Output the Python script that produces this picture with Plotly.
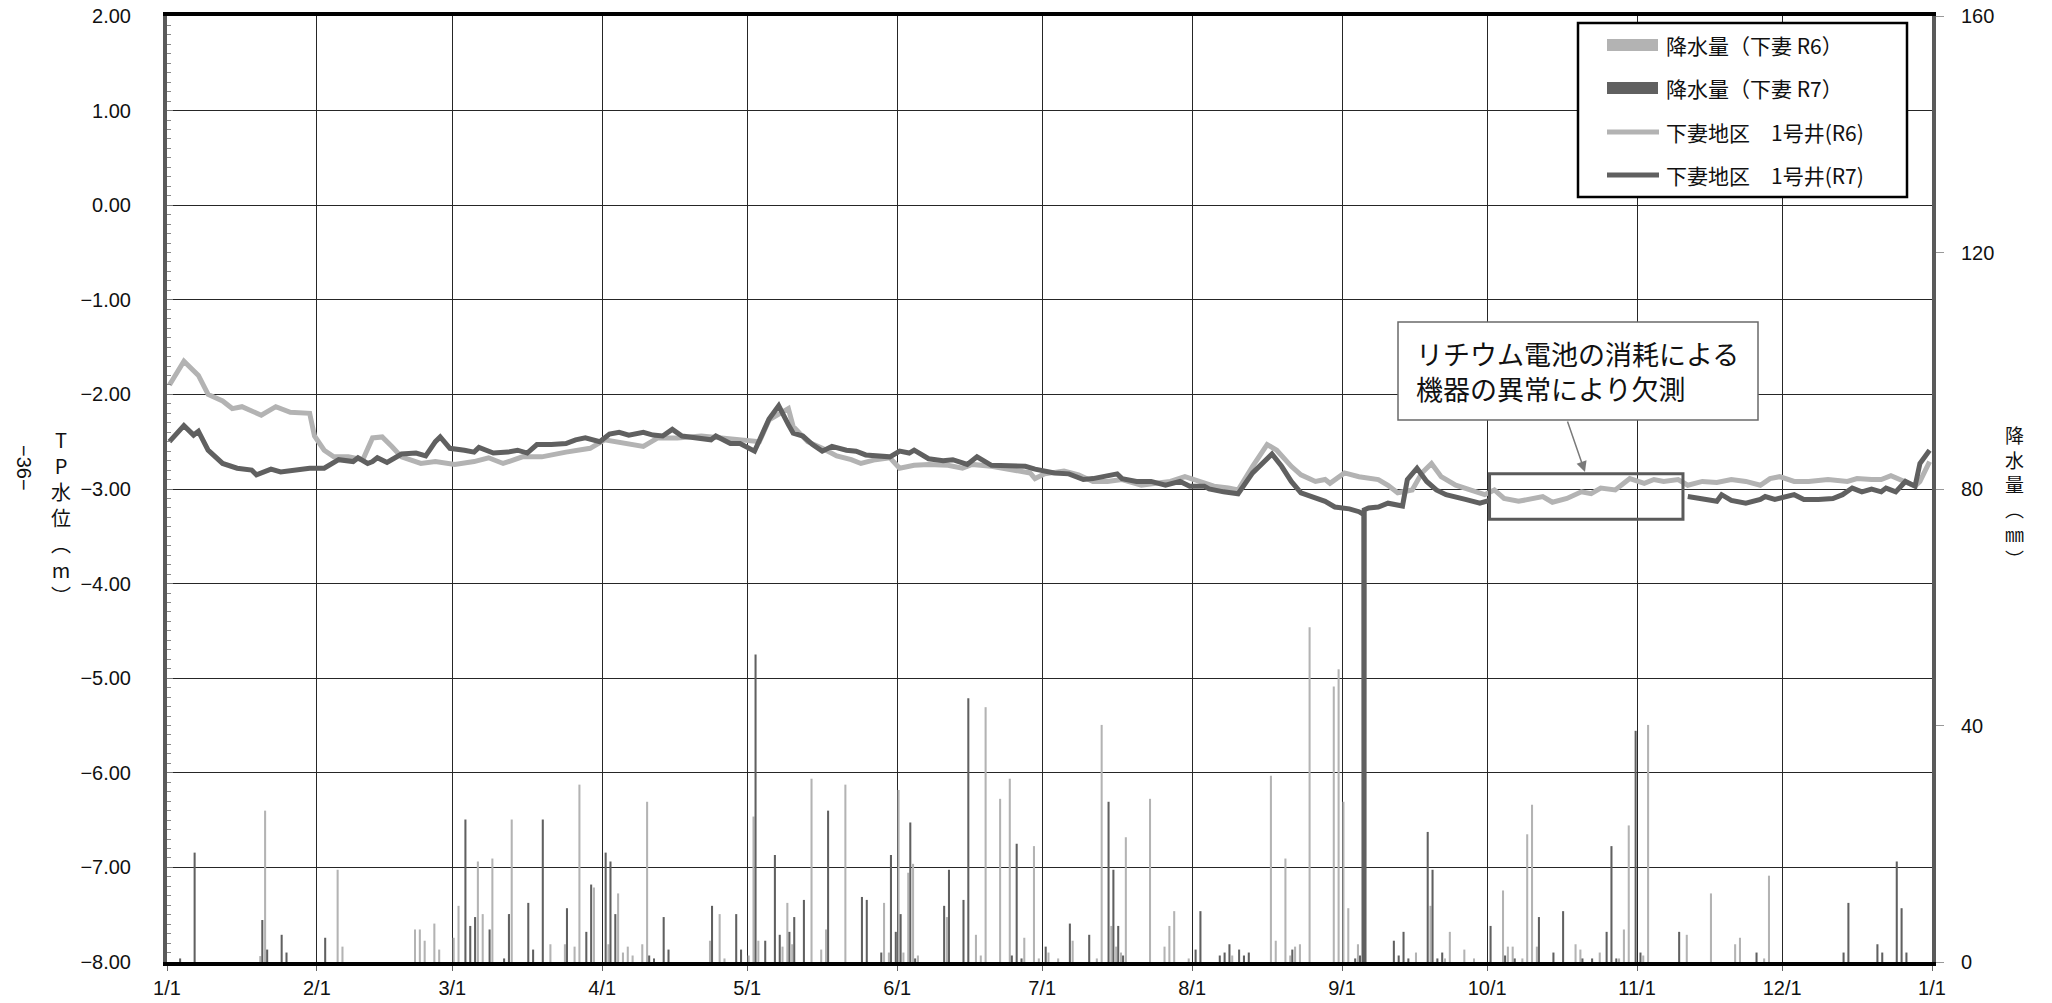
import pandas as pd
import plotly.graph_objects as go

YEAR = "2025"

# ---------------- data ----------------
# daily rainfall (mm), Shimotsuma, R6 (2024)
rain_r6_dates = ["01-20", "01-21", "02-05", "02-06", "02-21", "02-22", "02-23", "02-25", "02-26",
                 "03-01", "03-02", "03-06", "03-07", "03-09", "03-13", "03-21", "03-24", "03-26",
                 "03-27", "03-30", "04-02", "04-04", "04-05", "04-06", "04-07", "04-09", "04-10",
                 "04-23", "04-25", "04-26", "05-01", "05-02", "05-03", "05-08", "05-09", "05-10",
                 "05-14", "05-16", "05-17", "05-21", "05-29", "05-30", "06-01", "06-02", "06-03",
                 "06-04", "06-05", "06-11", "06-17", "06-18", "06-19", "06-22", "06-24", "06-27",
                 "06-29", "06-30", "07-02", "07-04", "07-07", "07-12", "07-13", "07-15", "07-16",
                 "07-17", "07-18", "07-23", "07-26", "07-27", "07-28", "07-31", "08-09", "08-17",
                 "08-18", "08-20", "08-21", "08-22", "08-23", "08-25", "08-30", "08-31", "09-01",
                 "09-02", "09-04", "09-16", "09-19", "09-22", "09-23", "09-26", "09-28", "10-04",
                 "10-05", "10-06", "10-08", "10-09", "10-10", "10-11", "10-19", "10-20", "10-24",
                 "10-28", "10-29", "10-30", "11-02", "11-03", "11-11", "11-16", "11-21", "11-22",
                 "11-27", "11-28"]
rain_r6_mm = [1.0, 25.6, 15.6, 2.6, 5.5, 5.5, 3.6, 6.5, 2.1,
              4.1, 9.5, 17.0, 8.1, 17.5, 24.1, 3.0, 3.0, 2.6,
              30.0, 12.6, 3.0, 11.6, 1.6, 2.6, 1.1, 3.0, 27.1,
              3.6, 8.1, 0.6, 1.1, 24.6, 3.6, 2.6, 10.0, 3.0,
              31.0, 2.1, 5.5, 30.0, 10.0, 1.6, 29.1, 1.6, 15.1,
              16.6, 1.1, 7.6, 4.6, 1.1, 43.1, 27.6, 31.0, 4.1,
              19.6, 0.6, 1.6, 0.6, 3.6, 0.6, 40.1, 6.1, 2.6,
              1.6, 21.1, 27.6, 2.6, 6.1, 8.6, 0.6, 1.1, 31.5,
              3.6, 17.5, 1.1, 2.6, 3.0, 56.6, 46.6, 49.5, 27.1,
              9.1, 3.0, 1.6, 9.5, 0.6, 5.1, 2.1, 0.6, 12.1,
              2.6, 2.6, 0.6, 21.6, 26.6, 2.6, 3.0, 2.1, 1.6,
              0.6, 5.5, 23.1, 1.1, 40.1, 4.6, 11.6, 3.0, 4.1,
              0.6, 14.6]

# daily rainfall (mm), Shimotsuma, R7 (2025)
rain_r7_dates = ["01-03", "01-06", "01-20", "01-21", "01-24", "01-25", "02-02", "03-03", "03-04",
                 "03-05", "03-08", "03-11", "03-12", "03-16", "03-17", "03-19", "03-24", "03-28",
                 "03-29", "04-01", "04-02", "04-03", "04-10", "04-11", "04-13", "04-14", "04-23",
                 "04-28", "04-29", "05-02", "05-04", "05-06", "05-07", "05-09", "05-10", "05-12",
                 "05-17", "05-24", "05-25", "05-28", "05-30", "05-31", "06-01", "06-03", "06-04",
                 "06-10", "06-11", "06-14", "06-15", "06-24", "06-25", "06-26", "07-01", "07-06",
                 "07-10", "07-14", "07-15", "07-16", "07-17", "08-01", "08-02", "08-06", "08-07",
                 "08-08", "08-10", "08-11", "08-12", "08-21", "09-03", "09-04", "09-11", "09-12",
                 "09-13", "09-14", "09-18", "09-19", "09-20", "09-21", "10-01", "10-04", "10-06",
                 "10-11", "10-14", "10-16", "10-20", "10-22", "10-25", "10-26", "10-27", "10-31",
                 "11-01", "11-09", "11-25", "12-13", "12-14", "12-20", "12-21", "12-24", "12-25",
                 "12-26"]
rain_r7_mm = [0.6, 18.5, 7.1, 2.1, 4.6, 1.6, 4.1, 24.1, 6.1,
              7.6, 5.5, 0.6, 8.1, 10.0, 2.1, 24.1, 9.1, 5.1,
              13.1, 18.5, 17.0, 8.1, 1.1, 0.6, 7.6, 2.1, 9.5,
              8.1, 2.1, 52.0, 3.6, 18.1, 4.6, 5.1, 7.6, 10.5,
              25.6, 11.0, 10.5, 1.6, 18.1, 5.1, 8.1, 23.6, 0.6,
              9.5, 15.6, 10.5, 44.6, 1.1, 20.0, 0.6, 2.6, 6.5,
              4.6, 27.1, 15.6, 6.1, 1.1, 2.1, 8.6, 1.1, 1.6,
              3.0, 2.1, 1.1, 1.6, 2.1, 0.6, 1.1, 3.6, 1.1,
              5.1, 0.6, 22.0, 15.6, 0.6, 1.6, 6.1, 1.1, 0.6,
              7.6, 1.6, 8.6, 0.6, 0.6, 5.1, 19.6, 0.6, 39.1,
              1.6, 5.1, 1.6, 1.6, 10.0, 3.0, 1.6, 17.0, 9.1,
              1.6]

# groundwater level T.P. (m), Shimotsuma district well No.1, R6
wl_r6_dates = ["01-01", "01-04", "01-07", "01-09", "01-12", "01-14", "01-16", "01-18", "01-20",
               "01-23", "01-26", "01-30", "01-31", "02-02", "02-04", "02-07", "02-10", "02-12",
               "02-14", "02-16", "02-18", "02-22", "02-25", "03-01", "03-05", "03-08", "03-11",
               "03-15", "03-19", "03-24", "03-29", "04-01", "04-05", "04-09", "04-12", "04-16",
               "04-21", "04-25", "04-30", "05-03", "05-05", "05-09", "05-10", "05-13", "05-16",
               "05-19", "05-22", "05-24", "05-27", "05-30", "06-01", "06-04", "06-07", "06-11",
               "06-14", "06-16", "06-20", "06-24", "06-28", "06-29", "07-01", "07-05", "07-08",
               "07-11", "07-14", "07-17", "07-21", "07-24", "07-27", "07-30", "08-03", "08-05",
               "08-08", "08-10", "08-13", "08-15", "08-16", "08-18", "08-21", "08-23", "08-26",
               "08-28", "08-29", "09-01", "09-04", "09-08", "09-10", "09-12", "09-15", "09-17",
               "09-19", "09-21", "09-24", "09-27", "09-30", "10-02", "10-04", "10-07", "10-09",
               "10-12", "10-14", "10-17", "10-20", "10-22", "10-24", "10-27", "10-30", "11-02",
               "11-04", "11-06", "11-09", "11-11", "11-14", "11-17", "11-20", "11-23", "11-26",
               "11-28", "11-30", "12-03", "12-06", "12-10", "12-14", "12-16", "12-19", "12-21",
               "12-23", "12-25", "12-28", "12-29", "12-31"]
wl_r6_m = [-1.90, -1.65, -1.80, -2.00, -2.07, -2.15, -2.13, -2.18, -2.22,
           -2.13, -2.19, -2.20, -2.44, -2.59, -2.66, -2.66, -2.69, -2.46,
           -2.45, -2.55, -2.66, -2.73, -2.71, -2.74, -2.71, -2.67, -2.73,
           -2.66, -2.66, -2.61, -2.57, -2.48, -2.52, -2.55, -2.46, -2.46,
           -2.44, -2.46, -2.48, -2.50, -2.27, -2.15, -2.34, -2.50, -2.57,
           -2.65, -2.69, -2.73, -2.69, -2.67, -2.78, -2.75, -2.74, -2.75,
           -2.78, -2.74, -2.76, -2.80, -2.83, -2.89, -2.84, -2.81, -2.85,
           -2.92, -2.92, -2.90, -2.96, -2.94, -2.92, -2.87, -2.94, -2.97,
           -2.99, -3.01, -2.76, -2.60, -2.53, -2.59, -2.76, -2.85, -2.92,
           -2.90, -2.94, -2.83, -2.87, -2.90, -2.96, -3.04, -3.01, -2.83,
           -2.73, -2.87, -2.96, -3.01, -3.06, -3.01, -3.10, -3.13, -3.11,
           -3.08, -3.14, -3.10, -3.03, -3.05, -2.99, -3.01, -2.89, -2.94,
           -2.90, -2.92, -2.90, -2.96, -2.92, -2.93, -2.90, -2.92, -2.96,
           -2.89, -2.87, -2.92, -2.92, -2.90, -2.92, -2.89, -2.90, -2.90,
           -2.86, -2.90, -2.97, -2.92, -2.71]

# groundwater level T.P. (m), Shimotsuma district well No.1, R7 (None = missing)
wl_r7_dates = ["01-01", "01-04", "01-06", "01-07", "01-09", "01-12", "01-15", "01-18", "01-19",
               "01-22", "01-24", "01-28", "01-30", "02-02", "02-05", "02-08", "02-09", "02-11",
               "02-12", "02-13", "02-15", "02-18", "02-21", "02-23", "02-25", "02-26", "02-28",
               "03-03", "03-05", "03-06", "03-09", "03-12", "03-14", "03-16", "03-18", "03-21",
               "03-24", "03-26", "03-28", "03-31", "04-02", "04-04", "04-06", "04-09", "04-11",
               "04-13", "04-15", "04-17", "04-20", "04-23", "04-24", "04-27", "04-29", "05-02",
               "05-05", "05-07", "05-09", "05-10", "05-12", "05-14", "05-16", "05-18", "05-21",
               "05-23", "05-25", "05-30", "06-01", "06-03", "06-04", "06-07", "06-10", "06-12",
               "06-15", "06-17", "06-20", "06-24", "06-27", "06-29", "07-03", "07-06", "07-09",
               "07-11", "07-13", "07-16", "07-17", "07-20", "07-23", "07-26", "07-29", "07-31",
               "08-03", "08-04", "08-07", "08-10", "08-13", "08-15", "08-17", "08-19", "08-21",
               "08-23", "08-26", "08-28", "08-30", "09-02", "09-04", "09-05", "09-05 01:00",
               "09-05 02:00", "09-06", "09-08", "09-10", "09-13", "09-14", "09-16", "09-18",
               "09-20", "09-22", "09-24", "09-26", "09-29", "10-01", "10-02", "11-10", "11-11",
               "11-14", "11-17", "11-18", "11-20", "11-23", "11-26", "11-27", "11-29", "12-03",
               "12-05", "12-08", "12-11", "12-13", "12-15", "12-17", "12-19", "12-21", "12-22",
               "12-24", "12-26", "12-28", "12-29", "12-31"]
wl_r7_m = [-2.50, -2.33, -2.43, -2.39, -2.59, -2.73, -2.78, -2.80, -2.85,
           -2.79, -2.82, -2.80, -2.78, -2.78, -2.69, -2.71, -2.67, -2.73,
           -2.71, -2.67, -2.72, -2.63, -2.62, -2.65, -2.50, -2.45, -2.57,
           -2.59, -2.61, -2.56, -2.62, -2.61, -2.59, -2.62, -2.53, -2.53,
           -2.52, -2.48, -2.46, -2.50, -2.42, -2.40, -2.43, -2.40, -2.43,
           -2.44, -2.37, -2.44, -2.46, -2.48, -2.44, -2.52, -2.52, -2.60,
           -2.26, -2.12, -2.32, -2.41, -2.44, -2.53, -2.60, -2.55, -2.59,
           -2.60, -2.64, -2.66, -2.60, -2.62, -2.59, -2.68, -2.70, -2.69,
           -2.74, -2.66, -2.75, -2.76, -2.76, -2.79, -2.83, -2.84, -2.90,
           -2.89, -2.87, -2.84, -2.89, -2.92, -2.92, -2.96, -2.92, -2.97,
           -2.97, -3.00, -3.03, -3.05, -2.83, -2.73, -2.63, -2.76, -2.92,
           -3.04, -3.09, -3.13, -3.19, -3.21, -3.24, -3.27, -8.00,
           -3.22, -3.20, -3.19, -3.15, -3.18, -2.90, -2.78, -2.92,
           -3.01, -3.06, -3.08, -3.11, -3.15, -3.12, None, None, -3.08,
           -3.11, -3.13, -3.06, -3.12, -3.15, -3.11, -3.08, -3.11, -3.06,
           -3.11, -3.11, -3.10, -3.06, -2.99, -3.03, -3.00, -3.03, -2.99,
           -3.03, -2.92, -2.97, -2.73, -2.59]

NAME_RAIN_R6 = "降水量（下妻 R6）"
NAME_RAIN_R7 = "降水量（下妻 R7）"
NAME_WL_R6 = "下妻地区　1号井(R6)"
NAME_WL_R7 = "下妻地区　1号井(R7)"
NOTE_TEXT = "リチウム電池の消耗による<br>機器の異常により欠測"

LIGHT = "#b3b3b3"
DARK = "#606060"
FONT = "Liberation Sans, Arial, Noto Sans CJK JP, sans-serif"
JFONT = "Noto Sans CJK JP, sans-serif"

# page geometry (body margin removed after plotting, see post_script)
W, H = 2052, 1003
PL, PT, PW, PH = 167, 16, 1765, 946          # plot area on the page
ML, MT = PL, PT
MR, MB = W - ML - PW, H - MT - PH


def to_x(mds):
    # daily values are centred on their day (category centre)
    return [pd.Timestamp(f"{YEAR}-{s}") + pd.Timedelta(hours=12) for s in mds]


def px(xp):
    return (xp - PL) / PW


def py(yp):
    return 1 - (yp - PT) / PH


fig = go.Figure()
fig.add_trace(go.Bar(x=to_x(rain_r6_dates), y=rain_r6_mm, name=NAME_RAIN_R6,
                     marker=dict(color=LIGHT, line=dict(width=0)), yaxis="y2"))
fig.add_trace(go.Bar(x=to_x(rain_r7_dates), y=rain_r7_mm, name=NAME_RAIN_R7,
                     marker=dict(color=DARK, line=dict(width=0)), yaxis="y2"))
fig.add_trace(go.Scatter(x=to_x(wl_r6_dates), y=wl_r6_m, name=NAME_WL_R6, mode="lines",
                         line=dict(color=LIGHT, width=5)))
fig.add_trace(go.Scatter(x=to_x(wl_r7_dates), y=wl_r7_m, name=NAME_WL_R7, mode="lines",
                         line=dict(color=DARK, width=5), connectgaps=False))

fig.update_layout(
    width=W, height=H, autosize=False,
    margin=dict(l=ML, r=MR, t=MT, b=MB, pad=0, autoexpand=False),
    paper_bgcolor="white", plot_bgcolor="white",
    font=dict(family=FONT, size=19, color="#111"),
    barmode="group", bargap=0.15, bargroupgap=0.0,
    showlegend=False,
    xaxis=dict(type="date", range=[f"{YEAR}-01-01", "2026-01-01"], dtick="M1",
               tick0=f"{YEAR}-01-01", tickformat="%-m/%-d", automargin=False,
               showgrid=True, gridcolor="#262626", gridwidth=1.2,
               showline=True, linecolor="black", linewidth=4, mirror=True,
               ticks="outside", ticklen=5, tickcolor="#666",
               tickfont=dict(size=20), zeroline=False, ticklabeloverflow="allow"),
    yaxis=dict(range=[-8, 2], dtick=1, tick0=0, tickformat=".2f", automargin=False,
               showgrid=True, gridcolor="#262626", gridwidth=1.2,
               showline=True, linecolor="#5a5a5a", linewidth=4,
               ticks="inside", ticklen=6, tickcolor="#777",
               minor=dict(ticks="inside", dtick=0.1, ticklen=4, tickcolor="#888", showgrid=False),
               tickfont=dict(size=20), ticklabelstandoff=28, zeroline=False,
               ticklabeloverflow="allow"),
    yaxis2=dict(range=[0, 160], dtick=40, overlaying="y", side="right", automargin=False,
                showgrid=False, showline=True, linecolor="#5a5a5a", linewidth=4,
                ticks="outside", ticklen=8, tickcolor="#999",
                tickfont=dict(size=20), ticklabelstandoff=13, zeroline=False,
                ticklabeloverflow="allow"),
)

# ---- legend (drawn to match the reference's long symbols) ----
LEG_BOX = dict(x0=1578, x1=1907, y0=23, y1=197)
LEG_ROWS = [45, 88, 132, 175]
fig.add_shape(type="rect", xref="paper", yref="paper",
              x0=px(LEG_BOX["x0"]), x1=px(LEG_BOX["x1"]), y0=py(LEG_BOX["y1"]), y1=py(LEG_BOX["y0"]),
              line=dict(color="black", width=2.5), fillcolor="white", layer="above")
legend_items = [(NAME_RAIN_R6, LIGHT, "bar"), (NAME_RAIN_R7, DARK, "bar"),
                (NAME_WL_R6, LIGHT, "line"), (NAME_WL_R7, DARK, "line")]
for (label, col, kind), yrow in zip(legend_items, LEG_ROWS):
    if kind == "bar":
        fig.add_shape(type="rect", xref="paper", yref="paper",
                      x0=px(1607), x1=px(1658), y0=py(yrow + 6), y1=py(yrow - 6),
                      line=dict(width=0), fillcolor=col, layer="above")
    else:
        fig.add_shape(type="line", xref="paper", yref="paper",
                      x0=px(1607), x1=px(1659), y0=py(yrow), y1=py(yrow),
                      line=dict(color=col, width=5), layer="above")
    fig.add_annotation(xref="paper", yref="paper", x=px(1664), y=py(yrow),
                       xanchor="left", yanchor="middle", showarrow=False, text=label,
                       font=dict(family=JFONT, size=21, color="#111"))

# missing-data box (R7 logger failure period)
fig.add_shape(type="rect", xref="x", yref="y",
              x0=f"{YEAR}-10-01 12:00", x1=f"{YEAR}-11-10 12:00", y0=-3.32, y1=-2.84,
              line=dict(color="#5a5a5a", width=3), fillcolor="rgba(0,0,0,0)", layer="above")
# note box
fig.add_shape(type="rect", xref="paper", yref="paper",
              x0=px(1398), x1=px(1758), y0=py(420), y1=py(322),
              line=dict(color="#6a6a6a", width=1.5), fillcolor="white", layer="above")
fig.add_annotation(xref="paper", yref="paper", x=px(1414), y=py(371),
                   xanchor="left", yanchor="middle", align="left", showarrow=False,
                   text=NOTE_TEXT, font=dict(family=JFONT, size=27, color="#111"))
fig.add_annotation(xref="paper", yref="paper", x=px(1585), y=py(472), text="",
                   showarrow=True, arrowhead=2, arrowsize=1.4, arrowwidth=1.5,
                   arrowcolor="#7a7a7a", ax=-18, ay=-52)

# axis titles (vertical)
fig.add_annotation(xref="paper", yref="paper", x=px(61), y=py(517), showarrow=False,
                   xanchor="center", yanchor="middle",
                   text="T<br>P<br>水<br>位<br>︵<br>m<br>︶",
                   font=dict(family=JFONT, size=20, color="#111"))
fig.add_annotation(xref="paper", yref="paper", x=px(2015), y=py(496), showarrow=False,
                   xanchor="center", yanchor="middle",
                   text="降<br>水<br>量<br>︵<br>㎜<br>︶",
                   font=dict(family=JFONT, size=19, color="#111"))
fig.add_annotation(xref="paper", yref="paper", x=px(24), y=py(468), showarrow=False,
                   xanchor="center", yanchor="middle",
                   text="−36−", textangle=90, font=dict(family=FONT, size=20, color="#111"))

fig.write_html("out.html",
               config={"displayModeBar": False},
               post_script="document.body.style.margin='0px';document.body.style.overflow='hidden';")
